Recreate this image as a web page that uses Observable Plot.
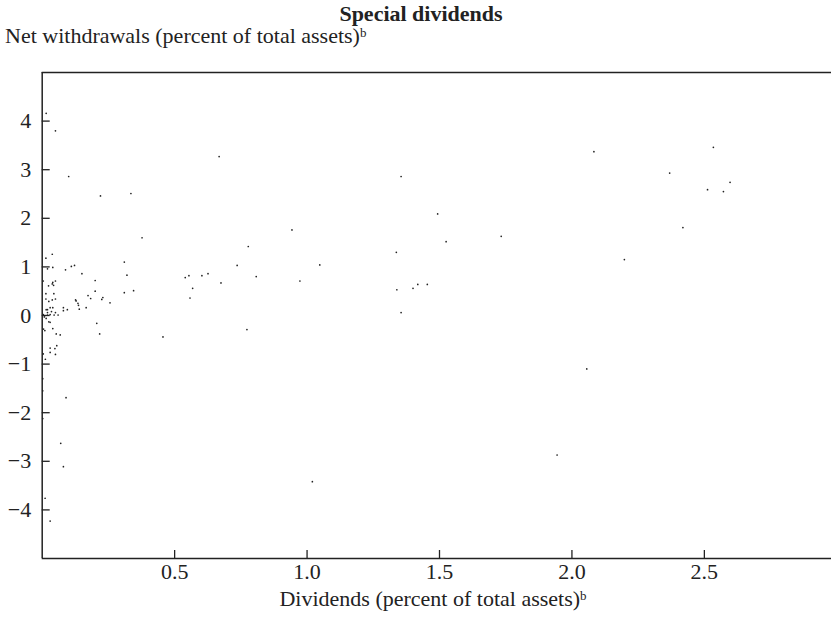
<!DOCTYPE html>
<html>
<head>
<meta charset="utf-8">
<script src="https://cdn.jsdelivr.net/npm/d3@7"></script>
<script src="https://cdn.jsdelivr.net/npm/@observablehq/plot@0.6"></script>
<style>
  body { margin: 0; background: #fff; }
  #wrap { position: relative; width: 831px; height: 621px; font-family: "Liberation Serif", "Times New Roman", serif; color: #222; }
  .lbl { position: absolute; font-size: 22px; line-height: 1; white-space: nowrap; }
  .lbl sup { font-size: 13px; vertical-align: 0; position: relative; top: -6px; line-height: 1; }
  #title { font-weight: bold; font-size: 22px; line-height: normal; left: 421px; top: 1px; transform: translateX(-50%); }
  #sub { left: 5px; top: 25px; }
  #xlab { left: 433px; top: 588px; transform: translateX(-50%); }
  #chart { position: absolute; left: 0; top: 0; }
</style>
</head>
<body>
<div id="wrap">
  <div id="chart"></div>
  <div class="lbl" id="title">Special dividends</div>
  <div class="lbl" id="sub">Net withdrawals (percent of total assets)<sup>b</sup></div>
  <div class="lbl" id="xlab">Dividends (percent of total assets)<sup>b</sup></div>
</div>
<script>
// Dividends (percent of total assets)
const dividends = [
  0.015, 0.05, 0.10, 0.22, 0.335, 0.668, 1.355, 0.377, 0.943, 0.778,
  1.337, 0.736, 1.048, 0.54, 0.554, 0.603, 0.626, 0.568, 0.558, 0.675,
  0.808, 0.973, 0.345, 1.339, 1.40, 1.418, 1.454, 1.355, 0.773, 0.456,
  1.02, 2.083, 2.534, 2.369, 2.597, 2.512, 2.572, 1.493, 2.419, 1.733,
  1.525, 2.198, 2.056, 1.944,
  0.014, 0.038, 0.02, 0.04, 0.088, 0.11, 0.122, 0.15, 0.31, 0.32,
  0.31, 0.004, 0.04, 0.05, 0.2, 0.024, 0.038, 0.043, 0.2, 0.173,
  0.014, 0.044, 0.183, 0.229, 0.225, 0.014, 0.038, 0.05, 0.126, 0.025,
  0.128, 0.135, 0.137, 0.256, 0.03, 0.04, 0.015, 0.02, 0.08, 0.08,
  0.095, 0.14, 0.166, 0.035, 0.05, 0.02, 0.004, 0.01, 0.02, 0.03,
  0.045, 0.06, 0.008, 0.015, 0.025, 0.03, 0.04, 0.005, 0.01, 0.053,
  0.068, 0.206, 0.217, 0.055, 0.03, 0.048, 0.03, 0.05, 0.004, 0.012,
  0.09, 0.002, 0.002, 0.002, 0.07, 0.08, 0.011, 0.03
];
// Net withdrawals (percent of total assets)
const withdrawals = [
  4.16, 3.80, 2.86, 2.46, 2.51, 3.27, 2.86, 1.60, 1.76, 1.42,
  1.30, 1.03, 1.04, 0.78, 0.82, 0.82, 0.86, 0.56, 0.36, 0.67,
  0.80, 0.71, 0.51, 0.53, 0.56, 0.64, 0.64, 0.06, -0.29, -0.44,
  -3.42, 3.37, 3.46, 2.93, 2.74, 2.59, 2.55, 2.09, 1.81, 1.63,
  1.52, 1.15, -1.10, -2.87,
  1.18, 1.26, 0.96, 0.99, 0.94, 1.01, 1.03, 0.86, 1.10, 0.83,
  0.47, 0.71, 0.68, 0.71, 0.72, 0.61, 0.65, 0.62, 0.50, 0.41,
  0.45, 0.45, 0.35, 0.37, 0.33, 0.34, 0.32, 0.34, 0.32, 0.29,
  0.30, 0.25, 0.21, 0.26, 0.16, 0.16, 0.12, 0.12, 0.16, 0.10,
  0.12, 0.13, 0.16, 0.08, 0.06, 0.06, 0.02, 0.00, 0.01, 0.02,
  0.01, 0.01, -0.03, -0.06, -0.13, -0.14, -0.27, -0.28, -0.31, -0.38,
  -0.40, -0.16, -0.38, -0.62, -0.67, -0.68, -0.76, -0.80, -0.79, -0.90,
  -1.69, -1.30, -1.55, -2.12, -2.63, -3.11, -3.76, -4.23
];
const xTicks = [0.5, 1.0, 1.5, 2.0, 2.5];
const yTicks = [-4, -3, -2, -1, 0, 1, 2, 3, 4];

const data = dividends.map((d, i) => ({x: d, y: withdrawals[i]}));

const ink = "#222";
const chart = Plot.plot({
  width: 831,
  height: 621,
  marginTop: 72,
  marginLeft: 41.7,
  marginRight: 0,
  marginBottom: 63,
  style: {fontFamily: "'Liberation Serif', 'Times New Roman', serif", fontSize: "22px", color: ink, background: "#fff"},
  x: {domain: [0, 2.98]},
  y: {domain: [-5, 5]},
  marks: [
    Plot.axisX({ticks: xTicks, tickFormat: d3.format(".1f"), tickSize: -8, tickPadding: 13, label: null, stroke: ink, strokeWidth: 1.3, fill: ink}),
    Plot.axisY({ticks: yTicks, tickFormat: d => d < 0 ? "\u2212" + Math.abs(d) : String(d), tickSize: -8, tickPadding: 19, label: null, stroke: ink, strokeWidth: 1.3, fill: ink}),
    Plot.ruleX([0], {stroke: ink, strokeWidth: 1.5}),
    Plot.ruleY([-5, 5], {stroke: ink, strokeWidth: 1.5}),
    Plot.dot(data, {x: "x", y: "y", r: 0.85, fill: ink, stroke: null})
  ]
});
document.getElementById("chart").appendChild(chart);
</script>
</body>
</html>
